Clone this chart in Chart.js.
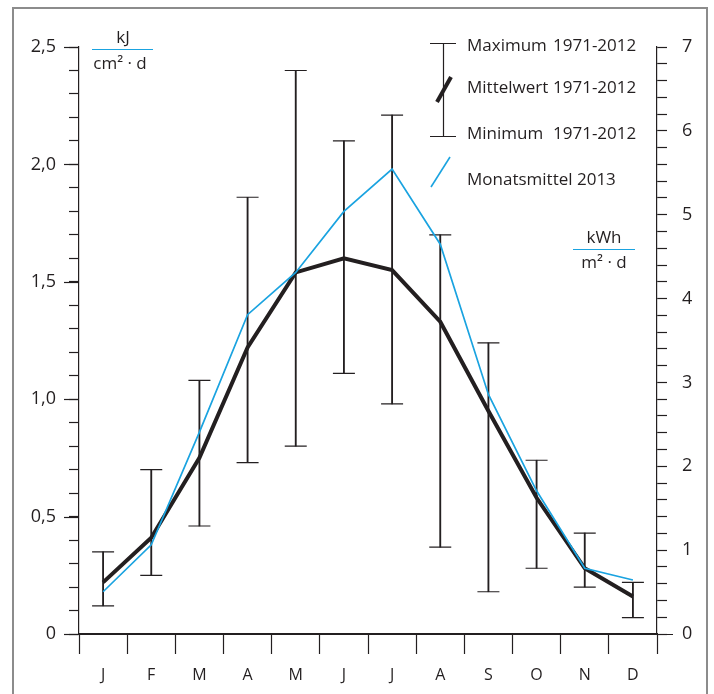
<!DOCTYPE html>
<html>
<head>
<meta charset="utf-8">
<script src="https://cdn.jsdelivr.net/npm/chart.js@4.4.1/dist/chart.umd.min.js"></script>
<style>
  html, body { margin: 0; padding: 0; background: #fff; }
  #wrap { width: 714px; height: 694px; position: relative; }
</style>
</head>
<body>
<div id="wrap"><canvas id="chart" width="714" height="694"></canvas></div>
<script>
// --- data (kJ / cm² · d) ---
const months = ['J', 'F', 'M', 'A', 'M', 'J', 'J', 'A', 'S', 'O', 'N', 'D'];
const maxValues = [0.35, 0.70, 1.08, 1.86, 2.40, 2.10, 2.21, 1.70, 1.24, 0.74, 0.43, 0.22];
const minValues = [0.12, 0.25, 0.46, 0.73, 0.80, 1.11, 0.98, 0.37, 0.18, 0.28, 0.20, 0.07];
const meanValues = [0.22, 0.41, 0.75, 1.22, 1.54, 1.60, 1.55, 1.33, 0.95, 0.58, 0.28, 0.16];
const monthly2013 = [0.18, 0.38, 0.86, 1.36, 1.54, 1.80, 1.98, 1.66, 1.02, 0.61, 0.28, 0.23];

const leftMax = 2.5;
const rightMax = 7;
const legendNames = ['Maximum', 'Mittelwert', 'Minimum', 'Monatsmittel 2013'];
const legendPeriods = ['1971-2012', '1971-2012', '1971-2012', ''];

const ink = '#231f20';
const blue = '#1aa3e0';
const fontFamily = '"Open Sans", "Noto Sans", sans-serif';

const fmt = v => (v === 0 ? '0' : v.toFixed(1).replace('.', ','));

// --- frame, legend, unit labels ---
const decorPlugin = {
    id: 'decor',
    beforeDraw(chart) {
        const c = chart.ctx;
        c.save();
        c.strokeStyle = '#8c8c8c';
        c.lineWidth = 2;
        c.strokeRect(13, 8, 694, 720);
        c.restore();
    },
    afterDraw(chart) {
        const c = chart.ctx;
        const yl = chart.scales.y;
        c.save();
        c.strokeStyle = ink;
        c.lineWidth = 1.2;

        // x axis line reaches a bit past both y axes
        const y0 = yl.getPixelForValue(0);
        c.beginPath();
        c.moveTo(65, y0 + 0.5);
        c.lineTo(673, y0 + 0.5);
        c.stroke();

        // longer ticks at labelled values on the left axis
        for (let v = 0; v <= leftMax + 1e-9; v += 0.5) {
            const py = Math.round(yl.getPixelForValue(v)) + 0.5;
            c.beginPath();
            c.moveTo(64, py);
            c.lineTo(79, py);
            c.stroke();
        }

        // legend glyphs
        c.beginPath();
        c.moveTo(443.5, 43); c.lineTo(443.5, 137);
        c.moveTo(430, 43.5); c.lineTo(456, 43.5);
        c.moveTo(430, 136.5); c.lineTo(456, 136.5);
        c.stroke();
        c.lineWidth = 4;
        c.beginPath();
        c.moveTo(437, 102); c.lineTo(451, 77);
        c.stroke();
        c.strokeStyle = blue;
        c.lineWidth = 1.6;
        c.beginPath();
        c.moveTo(431, 187); c.lineTo(450, 157);
        c.stroke();

        // legend text
        c.fillStyle = ink;
        c.font = '17px ' + fontFamily;
        c.textBaseline = 'middle';
        c.textAlign = 'left';
        const legendY = [46, 88, 134, 180];
        legendNames.forEach((t, i) => {
            c.fillText(t, 467, legendY[i]);
            if (legendPeriods[i]) c.fillText(legendPeriods[i], 553, legendY[i]);
        });

        // unit fractions
        c.font = '17px ' + fontFamily;
        c.textAlign = 'center';
        c.lineWidth = 1;
        c.fillText('kJ', 123, 38);
        c.beginPath(); c.moveTo(92, 49.5); c.lineTo(153, 49.5); c.stroke();
        c.fillText('cm\u00b2 \u00b7 d', 120, 64);

        c.fillText('kWh', 604, 238);
        c.beginPath(); c.moveTo(573, 249.5); c.lineTo(635, 249.5); c.stroke();
        c.fillText('m\u00b2 \u00b7 d', 604, 263);
        c.restore();
    }
};

const ctx = document.getElementById('chart').getContext('2d');
const chart = new Chart(ctx, {
    type: 'bar',
    data: {
        labels: months,
        datasets: [
            {
                // whisker stems
                type: 'bar',
                data: months.map((m, i) => [minValues[i], maxValues[i]]),
                backgroundColor: ink,
                barThickness: 1.2,
                grouped: false,
                order: 4
            },
            {
                type: 'line',
                data: maxValues,
                showLine: false,
                pointStyle: 'line',
                pointRadius: 11,
                pointBorderWidth: 1.2,
                pointBorderColor: ink,
                order: 3
            },
            {
                type: 'line',
                data: minValues,
                showLine: false,
                pointStyle: 'line',
                pointRadius: 11,
                pointBorderWidth: 1.2,
                pointBorderColor: ink,
                order: 3
            },
            {
                type: 'line',
                data: meanValues,
                borderColor: ink,
                borderWidth: 4,
                pointRadius: 0,
                tension: 0,
                order: 2
            },
            {
                type: 'line',
                data: monthly2013,
                borderColor: blue,
                borderWidth: 1.7,
                pointRadius: 0,
                tension: 0,
                order: 1
            }
        ]
    },
    options: {
        responsive: false,
        animation: false,
        devicePixelRatio: 1,
        layout: { padding: { top: 47, left: 0, right: 0, bottom: 0 } },
        plugins: { legend: { display: false }, tooltip: { enabled: false } },
        scales: {
            x: {
                type: 'category',
                offset: true,
                grid: {
                    offset: true,
                    drawOnChartArea: false,
                    tickLength: 20,
                    tickColor: ink,
                    tickWidth: 1.2
                },
                border: { display: true, color: ink, width: 1.2 },
                ticks: { color: ink, font: { size: 16, family: fontFamily }, padding: 12, maxRotation: 0 },
                afterFit: s => { s.height = 60; }
            },
            y: {
                position: 'left',
                min: 0,
                max: leftMax,
                grid: { drawOnChartArea: false, tickLength: 10, tickColor: ink, tickWidth: 1.2 },
                border: { display: true, color: ink, width: 1.2 },
                ticks: {
                    stepSize: 0.1,
                    autoSkip: false,
                    color: ink,
                    padding: 13,
                    font: { size: 18, family: fontFamily },
                    callback: v => (Math.abs(v * 2 - Math.round(v * 2)) < 1e-6 ? fmt(v) : '')
                },
                afterFit: s => { s.width = 79; }
            },
            y2: {
                position: 'right',
                min: 0,
                max: rightMax,
                grid: { drawOnChartArea: false, tickLength: 10, tickColor: ink, tickWidth: 1.2 },
                border: { display: true, color: ink, width: 1.2 },
                ticks: {
                    stepSize: 0.2,
                    autoSkip: false,
                    color: ink,
                    padding: 15,
                    font: { size: 18, family: fontFamily },
                    callback: v => (Math.abs(v - Math.round(v)) < 1e-6 ? String(Math.round(v)) : '')
                },
                afterFit: s => { s.width = 57; }
            }
        }
    },
    plugins: [decorPlugin]
});
</script>
</body>
</html>
